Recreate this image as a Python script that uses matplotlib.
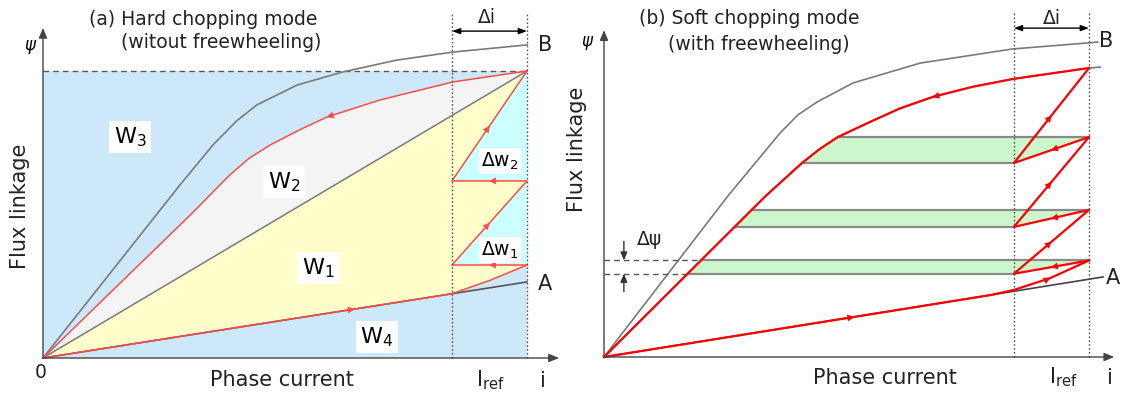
import numpy as np
import matplotlib
matplotlib.use("Agg")
import matplotlib.pyplot as plt
from matplotlib.patches import Polygon

plt.rcParams['font.family'] = ['DejaVu Sans']
plt.rcParams['mathtext.default'] = 'regular'

# ---------------- panel (a): hard chopping ----------------
i_ref_a = 0.845
mag_a_i = [0, 0.283, 0.351, 0.40, 0.442, 0.525, 0.620, 0.731, 0.847, 1.0]
mag_a_psi = [0, 0.603, 0.742, 0.826, 0.882, 0.951, 0.997, 1.038, 1.066, 1.091]
upper_a_i = [0, 0.304, 0.386, 0.425, 0.469, 0.53, 0.587, 0.696, 0.847, 1.0]
upper_a_psi = [0, 0.498, 0.638, 0.695, 0.742, 0.795, 0.840, 0.899, 0.962, 1.0]
unal_a_i = [0, 1.0]
unal_a_psi = [0, 0.265]
lower_a_i = [0, 0.845, 0.924, 1.0]
lower_a_psi = [0, 0.224, 0.271, 0.324]
chop_a = [0.324, 0.617, 1.0]

# ---------------- panel (b): soft chopping ----------------
i_ref_b = 0.845
mag_b_i = [0, 0.254, 0.363, 0.40, 0.439, 0.513, 0.652, 0.843, 1.0, 1.018]
mag_b_psi = [0, 0.554, 0.775, 0.838, 0.882, 0.948, 1.017, 1.066, 1.087, 1.090]
upper_b_i = [0, 0.332, 0.408, 0.445, 0.482, 0.548, 0.61, 0.678, 0.76, 0.843, 1.0, 1.023]
upper_b_psi = [0, 0.555, 0.671, 0.72, 0.761, 0.813, 0.86, 0.900, 0.935, 0.962, 1.0, 1.003]
unal_b_i = [0, 1.029]
unal_b_psi = [0, 0.277]
lower_b_i = [0, 0.796, 0.845, 0.920, 1.0]
lower_b_psi = [0, 0.214, 0.232, 0.273, 0.334]
peaks_b = [0.334, 0.509, 0.761]
valleys_b = [0.288, 0.450, 0.671]

BLUE = '#cde8f8'
CYAN = '#ccffff'
YELLOW = '#ffffcc'
LIGHT = '#f4f4f4'
GREEN = '#ccf7cc'
GRAY = '#7a7a7a'
AXC = '#444444'
TXT = '#222222'

fig = plt.figure(figsize=(11.25, 3.94), dpi=100)
axa = fig.add_axes([0, 0, 562 / 1125, 1])
axb = fig.add_axes([562 / 1125, 0, 563 / 1125, 1])
axa.set_xlim(-0.08884, 1.07231)
axa.set_ylim(-0.12544, 1.24739)
axb.set_xlim(-0.08660, 1.07423)
axb.set_ylim(-0.12803, 1.23529)
for ax in (axa, axb):
    ax.axis('off')


def head(ax, x, y, dx, dy, color, size=9):
    n = np.hypot(dx, dy)
    ax.annotate('', xy=(x + dx / n * 1e-3, y + dy / n * 1e-3), xytext=(x, y),
                arrowprops=dict(arrowstyle='-|>,head_length=0.55,head_width=0.28',
                                color=color, lw=0, shrinkA=0, shrinkB=0,
                                mutation_scale=size), zorder=6)


def head_on_curve(ax, xs, ys, x, backwards, color, size=9):
    y = np.interp(x, xs, ys)
    y2 = np.interp(x + 0.01, xs, ys)
    d = (-0.01, y - y2) if backwards else (0.01, y2 - y)
    head(ax, x, y, d[0], d[1], color, size)


def axes_frame(ax, xtip, ytip, yline_top, i_ref):
    for tip in ((0, ytip), (xtip, 0)):
        ax.annotate('', xy=tip, xytext=(0, 0),
                    arrowprops=dict(arrowstyle='-|>,head_length=0.6,head_width=0.25',
                                    color=AXC, lw=1.0, shrinkA=0, shrinkB=0,
                                    mutation_scale=10), zorder=7)
    for xv in (i_ref, 1.0):
        ax.plot([xv, xv], [0, yline_top], color='#555555', lw=1.0,
                ls=(0, (1.2, 1.6)), zorder=5)


def delta_i(ax, i_ref, y, ylab, label_x):
    ax.annotate('', xy=(1.0, y), xytext=(i_ref, y),
                arrowprops=dict(arrowstyle='<|-|>,head_length=0.6,head_width=0.22',
                                color='black', lw=1.0, shrinkA=0, shrinkB=0,
                                mutation_scale=8), zorder=7)
    ax.text(label_x, ylab, 'Δi', fontsize=13.5, ha='center', va='center', color=TXT)


tx = dict(fontsize=13.5, ha='center', va='center', color=TXT)
big = dict(fontsize=15, ha='center', va='center', color=TXT)

# ================= panel (a) =================
ax = axa
ax.add_patch(Polygon([(0, 0), (1, 0), (1, 1), (0, 1)], closed=True,
                     fc=BLUE, ec='none', zorder=1))
w2 = list(zip(upper_a_i, upper_a_psi)) + [(0, 0)]
ax.add_patch(Polygon(w2, closed=True, fc=LIGHT, ec='none', zorder=2))
zig_a = [(1.0, chop_a[0]), (i_ref_a, chop_a[0]), (1.0, chop_a[1]),
         (i_ref_a, chop_a[1]), (1.0, chop_a[2])]
w1 = list(zip(lower_a_i, lower_a_psi)) + zig_a[1:] + [(0, 0)]
ax.add_patch(Polygon(w1, closed=True, fc=YELLOW, ec='none', zorder=2))
for k in range(2):
    tri = [(i_ref_a, chop_a[k]), (1.0, chop_a[k]), (1.0, chop_a[k + 1])]
    ax.add_patch(Polygon(tri, closed=True, fc=CYAN, ec='none', zorder=2))

ax.plot([0, 1], [1, 1], color='#555555', lw=1.0, ls=(0, (4, 3)), zorder=3)
ax.plot([0, 1], [0, 1], color=GRAY, lw=1.1, zorder=3)
ax.plot(mag_a_i, mag_a_psi, color=GRAY, lw=1.2, zorder=3)
ax.plot(unal_a_i, unal_a_psi, color='#555555', lw=1.2, zorder=3)

RA = '#ff4a4a'
ax.plot(upper_a_i, upper_a_psi, color=RA, lw=1.1, zorder=4)
ax.plot(lower_a_i, lower_a_psi, color=RA, lw=1.1, zorder=4)
zx, zy = zip(*zig_a)
ax.plot(zx, zy, color=RA, lw=1.1, zorder=4)
head_on_curve(ax, upper_a_i, upper_a_psi, 0.587, True, RA)
head_on_curve(ax, lower_a_i, lower_a_psi, 0.643, False, RA)
for k in range(2):
    head(ax, (i_ref_a + 1) / 2, chop_a[k], -1, 0, RA)
    head(ax, (i_ref_a + 1) / 2, (chop_a[k] + chop_a[k + 1]) / 2,
         1 - i_ref_a, chop_a[k + 1] - chop_a[k], RA)

axes_frame(ax, 1.066, 1.15, 1.206, i_ref_a)
delta_i(ax, i_ref_a, 1.139, 1.185, 0.917)

lbl = dict(fontsize=16, ha='center', va='center', zorder=8,
           bbox=dict(boxstyle='square,pad=0.2', fc='white', ec='none'))
ax.text(0.180, 0.770, 'W$_3$', **lbl)
ax.text(0.498, 0.613, 'W$_2$', **lbl)
ax.text(0.568, 0.314, 'W$_1$', **lbl)
ax.text(0.690, 0.073, 'W$_4$', **lbl)
lbl2 = dict(fontsize=13.5, ha='center', va='center', zorder=8,
            bbox=dict(boxstyle='square,pad=0.12', fc='white', ec='none'))
ax.text(0.944, 0.686, 'Δw$_2$', **lbl2)
ax.text(0.944, 0.376, 'Δw$_1$', **lbl2)

ax.text(0.331, 1.178, '(a) Hard chopping mode', **tx)
ax.text(0.368, 1.098, '(witout freewheeling)', **tx)
ax.text(-0.027, 1.09, 'ψ', fontsize=12, ha='center', va='center', style='italic')
ax.text(-0.004, -0.052, '0', **tx)
ax.text(0.494, -0.077, 'Phase current', **big)
ax.text(0.925, -0.077, 'I$_{ref}$', **big)
ax.text(1.033, -0.080, 'i', **big)
ax.text(1.022, 1.090, 'B', fontsize=15, ha='left', va='center', color=TXT)
ax.text(1.022, 0.258, 'A', fontsize=15, ha='left', va='center', color=TXT)
ax.text(-0.047, 0.53, 'Flux linkage', rotation=90, **big)

# ================= panel (b) =================
ax = axb
RB = '#ff0000'
for p, v in zip(peaks_b, valleys_b):
    lt = np.interp(p, upper_b_psi, upper_b_i)
    lb = np.interp(v, upper_b_psi, upper_b_i)
    inner = [(x, y) for x, y in zip(upper_b_i, upper_b_psi) if v < y < p]
    poly = [(lb, v)] + inner + [(lt, p), (1.0, p), (i_ref_b, v)]
    ax.add_patch(Polygon(poly, closed=True, fc=GREEN, ec='none', zorder=1))
    ax.plot([lt, 1.0], [p, p], color='#8a8a8a', lw=1.6, zorder=2)
    ax.plot([lb, i_ref_b], [v, v], color='#8a8a8a', lw=1.6, zorder=2)

ax.plot(mag_b_i, mag_b_psi, color=GRAY, lw=1.2, zorder=3)
ax.plot(upper_b_i, upper_b_psi, color=GRAY, lw=1.2, zorder=3)
ax.plot(unal_b_i, unal_b_psi, color='#444444', lw=1.2, zorder=3)

# flux ripple marker on the first chopping band
lt0 = np.interp(peaks_b[0], upper_b_psi, upper_b_i)
lb0 = np.interp(valleys_b[0], upper_b_psi, upper_b_i)
ax.plot([0, lt0], [peaks_b[0]] * 2, color='#555555', lw=1.0, ls=(0, (4, 3)), zorder=3)
ax.plot([0, lb0], [valleys_b[0]] * 2, color='#555555', lw=1.0, ls=(0, (4, 3)), zorder=3)
xa = 0.041
for y0, y1 in ((peaks_b[0] + 0.066, peaks_b[0]), (valleys_b[0] - 0.062, valleys_b[0])):
    ax.annotate('', xy=(xa, y1), xytext=(xa, y0),
                arrowprops=dict(arrowstyle='-|>,head_length=0.6,head_width=0.25',
                                color='#333333', lw=1.0, shrinkA=0, shrinkB=0,
                                mutation_scale=8), zorder=7)
ax.text(0.093, 0.405, 'Δψ', fontsize=13.5, ha='center', va='center', color=TXT)

ub_i = [x for x in upper_b_i if x <= 1.0]
ub_p = upper_b_psi[:len(ub_i)]
ax.plot(ub_i, ub_p, color=RB, lw=1.6, zorder=4)
ax.plot(lower_b_i, lower_b_psi, color=RB, lw=1.6, zorder=4)
zig_b = []
for p, v in zip(peaks_b, valleys_b):
    zig_b += [(1.0, p), (i_ref_b, v)]
zig_b.append((1.0, 1.0))
zx, zy = zip(*zig_b)
ax.plot(zx, zy, color=RB, lw=1.6, zorder=4)
for (x0, y0), (x1, y1) in zip(zig_b[:-1], zig_b[1:]):
    head(ax, (x0 + x1) / 2, (y0 + y1) / 2, x1 - x0, y1 - y0, RB)
head_on_curve(ax, ub_i, ub_p, 0.678, True, RB)
head_on_curve(ax, lower_b_i, lower_b_psi, 0.515, False, RB)
head_on_curve(ax, lower_b_i, lower_b_psi, 0.92, False, RB)

axes_frame(ax, 1.052, 1.131, 1.19, i_ref_b)
delta_i(ax, i_ref_b, 1.138, 1.173, 0.924)

ax.text(0.299, 1.173, '(b) Soft chopping mode', **tx)
ax.text(0.320, 1.080, '(with freewheeling)', **tx)
ax.text(-0.035, 1.095, 'ψ', fontsize=12, ha='center', va='center', style='italic')
ax.text(0.579, -0.073, 'Phase current', **big)
ax.text(0.948, -0.070, 'I$_{ref}$', **big)
ax.text(1.043, -0.073, 'i', **big)
ax.text(1.020, 1.093, 'B', fontsize=15, ha='left', va='center', color=TXT)
ax.text(1.035, 0.272, 'A', fontsize=15, ha='left', va='center', color=TXT)
ax.text(-0.056, 0.72, 'Flux linkage', rotation=90, **big)

fig.savefig('out.png', dpi=100)
